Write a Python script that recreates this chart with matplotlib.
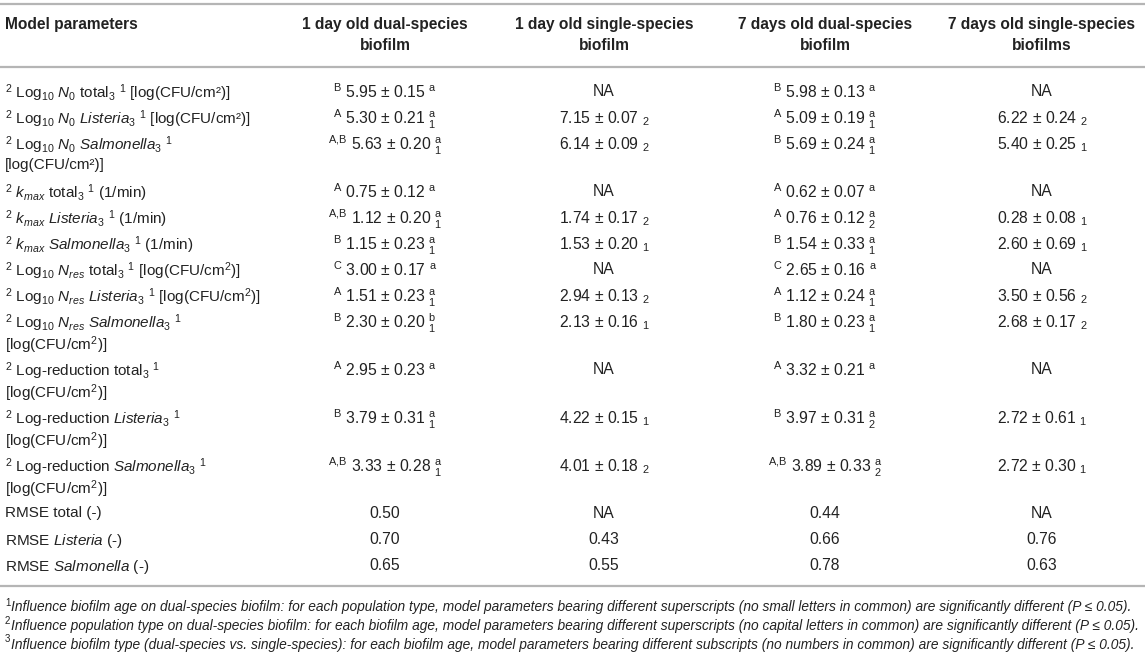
import matplotlib
matplotlib.use("Agg")
import matplotlib.pyplot as plt

# --- table content ---
col_headers = [
    ["1 day old dual-species", "biofilm"],
    ["1 day old single-species", "biofilm"],
    ["7 days old dual-species", "biofilm"],
    ["7 days old single-species", "biofilms"],
]

row_labels = [
    [r"$^{2}$ Log$_{10}$ $N_{0}$ total$_{3}$ $^{1}$ [log(CFU/cm²)]"],
    [r"$^{2}$ Log$_{10}$ $N_{0}$ $\mathit{Listeria}_{3}$ $^{1}$ [log(CFU/cm²)]"],
    [r"$^{2}$ Log$_{10}$ $N_{0}$ $\mathit{Salmonella}_{3}$ $^{1}$", "[log(CFU/cm²)]"],
    [r"$^{2}$ $k_{max}$ total$_{3}$ $^{1}$ (1/min)"],
    [r"$^{2}$ $k_{max}$ $\mathit{Listeria}_{3}$ $^{1}$ (1/min)"],
    [r"$^{2}$ $k_{max}$ $\mathit{Salmonella}_{3}$ $^{1}$ (1/min)"],
    [r"$^{2}$ Log$_{10}$ $N_{res}$ total$_{3}$ $^{1}$ [log(CFU/cm$^{2}$)]"],
    [r"$^{2}$ Log$_{10}$ $N_{res}$ $\mathit{Listeria}_{3}$ $^{1}$ [log(CFU/cm$^{2}$)]"],
    [r"$^{2}$ Log$_{10}$ $N_{res}$ $\mathit{Salmonella}_{3}$ $^{1}$", r"[log(CFU/cm$^{2}$)]"],
    [r"$^{2}$ Log-reduction total$_{3}$ $^{1}$", r"[log(CFU/cm$^{2}$)]"],
    [r"$^{2}$ Log-reduction $\mathit{Listeria}_{3}$ $^{1}$", r"[log(CFU/cm$^{2}$)]"],
    [r"$^{2}$ Log-reduction $\mathit{Salmonella}_{3}$ $^{1}$", r"[log(CFU/cm$^{2}$)]"],
]
rmse_labels = ["RMSE total (-)", r"RMSE $\mathit{Listeria}$ (-)", r"RMSE $\mathit{Salmonella}$ (-)"]

dual1_mean = [5.95, 5.30, 5.63, 0.75, 1.12, 1.15, 3.00, 1.51, 2.30, 2.95, 3.79, 3.33]
dual1_sd = [0.15, 0.21, 0.20, 0.12, 0.20, 0.23, 0.17, 0.23, 0.20, 0.23, 0.31, 0.28]
dual1_cap = ["B", "A", "A,B", "A", "A,B", "B", "C", "A", "B", "A", "B", "A,B"]
dual1_low = ["a", "a", "a", "a", "a", "a", "a", "a", "b", "a", "a", "a"]
dual1_num = ["", "1", "1", "", "1", "1", "", "1", "1", "", "1", "1"]

single1_mean = [None, 7.15, 6.14, None, 1.74, 1.53, None, 2.94, 2.13, None, 4.22, 4.01]
single1_sd = [None, 0.07, 0.09, None, 0.17, 0.20, None, 0.13, 0.16, None, 0.15, 0.18]
single1_num = ["", "2", "2", "", "2", "1", "", "2", "1", "", "1", "2"]

dual7_mean = [5.98, 5.09, 5.69, 0.62, 0.76, 1.54, 2.65, 1.12, 1.80, 3.32, 3.97, 3.89]
dual7_sd = [0.13, 0.19, 0.24, 0.07, 0.12, 0.33, 0.16, 0.24, 0.23, 0.21, 0.31, 0.33]
dual7_cap = ["B", "A", "B", "A", "A", "B", "C", "A", "B", "A", "B", "A,B"]
dual7_low = ["a", "a", "a", "a", "a", "a", "a", "a", "a", "a", "a", "a"]
dual7_num = ["", "1", "1", "", "2", "1", "", "1", "1", "", "2", "2"]

single7_mean = [None, 6.22, 5.40, None, 0.28, 2.60, None, 3.50, 2.68, None, 2.72, 2.72]
single7_sd = [None, 0.24, 0.25, None, 0.08, 0.69, None, 0.56, 0.17, None, 0.61, 0.30]
single7_num = ["", "2", "1", "", "1", "1", "", "2", "2", "", "1", "1"]

rmse_dual1 = [0.50, 0.70, 0.65]
rmse_single1 = [None, 0.43, 0.55]
rmse_dual7 = [0.44, 0.66, 0.78]
rmse_single7 = [None, 0.76, 0.63]

footnote_marks = ["1", "2", "3"]
footnotes = [
    "Influence biofilm age on dual-species biofilm: for each population type, model parameters bearing different superscripts (no small letters in common) are significantly different (P ≤ 0.05).",
    "Influence population type on dual-species biofilm: for each biofilm age, model parameters bearing different superscripts (no capital letters in common) are significantly different (P ≤ 0.05).",
    "Influence biofilm type (dual-species vs. single-species): for each biofilm age, model parameters bearing different subscripts (no numbers in common) are significantly different (P ≤ 0.05).",
]


def dual_cell(m, s, cap, low, num):
    cap = cap.replace(",", r",\!")
    txt = r"$^{\mathrm{%s}}$ %.2f ± %.2f " % (cap, m, s)
    if num:
        txt += r"$^{\mathrm{%s}}_{\mathrm{%s}}$" % (low, num)
    else:
        txt += r"$^{\mathrm{%s}}$" % low
    return txt


def single_cell(m, s, num):
    if m is None:
        return "NA"
    return r"%.2f ± %.2f $_{\mathrm{%s}}$" % (m, s, num)


plt.rcParams['font.family'] = ['Liberation Sans', 'DejaVu Sans']
plt.rcParams['mathtext.fontset'] = 'custom'
plt.rcParams['mathtext.rm'] = 'Liberation Sans'
plt.rcParams['mathtext.it'] = 'Liberation Sans:italic'
plt.rcParams['mathtext.bf'] = 'Liberation Sans:bold'

W, H = 1145, 658
fig = plt.figure(figsize=(W / 100, H / 100), dpi=100)
ax = fig.add_axes([0, 0, 1, 1])
ax.set_xlim(0, W)
ax.set_ylim(H, 0)
ax.axis("off")

ink = "#222222"
rule = "#b5b5b5"
fs_lab = 11
fs_val = 11.3
fs_head = 11.2
col_x = [385, 604, 825, 1042]
label_x = 5

# rules
ax.hlines([4, 67, 586], 0, W, color=rule, lw=1.6)

# header
ax.text(label_x, 24, "Model parameters", fontsize=fs_head, fontweight="bold", color=ink,
        va="center")
for cx, lines in zip(col_x, col_headers):
    for k, line in enumerate(lines):
        ax.text(cx, 24 + 21 * k, line, fontsize=fs_head, fontweight="bold", color=ink,
                ha="center", va="center")

# body
step_single = 26
line_gap = 22
y = 90
for i, lines in enumerate(row_labels):
    for k, line in enumerate(lines):
        ax.text(label_x, y + line_gap * k, line, fontsize=fs_lab, color=ink,
                va="center_baseline")
    cells = [
        dual_cell(dual1_mean[i], dual1_sd[i], dual1_cap[i], dual1_low[i], dual1_num[i]),
        single_cell(single1_mean[i], single1_sd[i], single1_num[i]),
        dual_cell(dual7_mean[i], dual7_sd[i], dual7_cap[i], dual7_low[i], dual7_num[i]),
        single_cell(single7_mean[i], single7_sd[i], single7_num[i]),
    ]
    for cx, c in zip(col_x, cells):
        ax.text(cx, y, c, fontsize=fs_val, color=ink, ha="center", va="center_baseline")
    y += step_single + line_gap * (len(lines) - 1)

for i, lab in enumerate(rmse_labels):
    ax.text(label_x, y, lab, fontsize=fs_lab, color=ink, va="center_baseline")
    vals = [rmse_dual1[i], rmse_single1[i], rmse_dual7[i], rmse_single7[i]]
    for cx, v in zip(col_x, vals):
        ax.text(cx, y, "NA" if v is None else "%.2f" % v, fontsize=fs_val, color=ink,
                ha="center", va="center_baseline")
    y += step_single

# footnotes: small upright mark + italic sentence sized to span the table width
fig.canvas.draw()
renderer = fig.canvas.get_renderer()
fn_x = label_x + 6
for k, (mark, fn) in enumerate(zip(footnote_marks, footnotes)):
    fy = 606 + 18.5 * k
    ax.text(label_x, fy - 4.5, mark, fontsize=7, color=ink, va="center_baseline")
    t = ax.text(fn_x, fy, fn, fontsize=9, fontstyle="italic", color=ink,
                va="center_baseline")
    wpx = t.get_window_extent(renderer).width
    t.set_fontsize(9 * (W - fn_x - 6) / wpx)

fig.savefig("out.png", dpi=100)
